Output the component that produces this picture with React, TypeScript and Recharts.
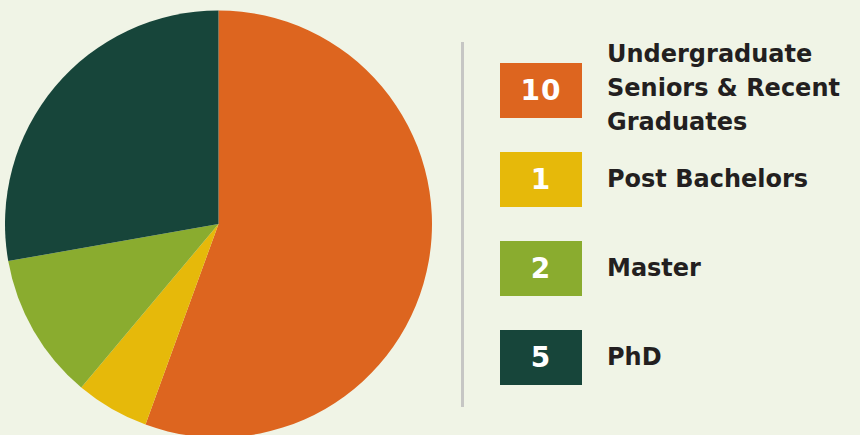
import React from 'react';
import { PieChart, Pie, Cell, Legend } from 'recharts';

const categories = ['Undergraduate Seniors & Recent Graduates', 'Post Bachelors', 'Master', 'PhD'];
const labelLines = [['Undergraduate', 'Seniors & Recent', 'Graduates'], ['Post Bachelors'], ['Master'], ['PhD']];
const counts = [10, 1, 2, 5];
const colors = ['#dd651f', '#e6b90a', '#8aac2f', '#17453a'];

const data = categories.map((name, i) => ({ name, value: counts[i] }));

const BG = '#f0f4e6';
const FONT = '"DejaVu Sans", sans-serif';

const LegendBlock = () => (
  <div style={{ position: 'relative', width: 860, height: 435, fontFamily: FONT }}>
    <div style={{ position: 'absolute', left: 461, top: 42, width: 3, height: 365, background: '#c6c6c4' }} />
    {data.map((d, i) => {
      const top = 63 + i * 89;
      const lines = labelLines[i];
      const multi = lines.length > 1;
      return (
        <React.Fragment key={d.name}>
          <div
            style={{
              position: 'absolute', left: 500, top, width: 82, height: 55, background: colors[i],
              color: '#fff', fontWeight: 700, fontSize: 28, lineHeight: '55px', textAlign: 'center',
              letterSpacing: 1,
            }}
          >
            {d.value}
          </div>
          <div
            style={{
              position: 'absolute', left: 607, top: multi ? 37 : top, color: '#231f20', fontWeight: 700,
              fontSize: 24, lineHeight: multi ? '34px' : '55px', whiteSpace: 'nowrap',
            }}
          >
            {lines.map((l) => (
              <div key={l}>{l}</div>
            ))}
          </div>
        </React.Fragment>
      );
    })}
  </div>
);

export default function App() {
  return (
    <div style={{ position: 'fixed', left: 0, top: 0, width: 860, height: 435, background: BG, overflow: 'hidden' }}>
      <PieChart width={860} height={435} margin={{ top: 0, right: 0, bottom: 0, left: 0 }}>
        <Pie
          data={data}
          dataKey="value"
          nameKey="name"
          cx={218.5}
          cy={224}
          outerRadius={213.5}
          startAngle={90}
          endAngle={-270}
          stroke="none"
          isAnimationActive={false}
        >
          {data.map((d, i) => (
            <Cell key={d.name} fill={colors[i]} />
          ))}
        </Pie>
        <Legend
          content={() => <LegendBlock />}
          wrapperStyle={{ position: 'absolute', left: 0, top: 0, width: 860, height: 435 }}
        />
      </PieChart>
    </div>
  );
}
